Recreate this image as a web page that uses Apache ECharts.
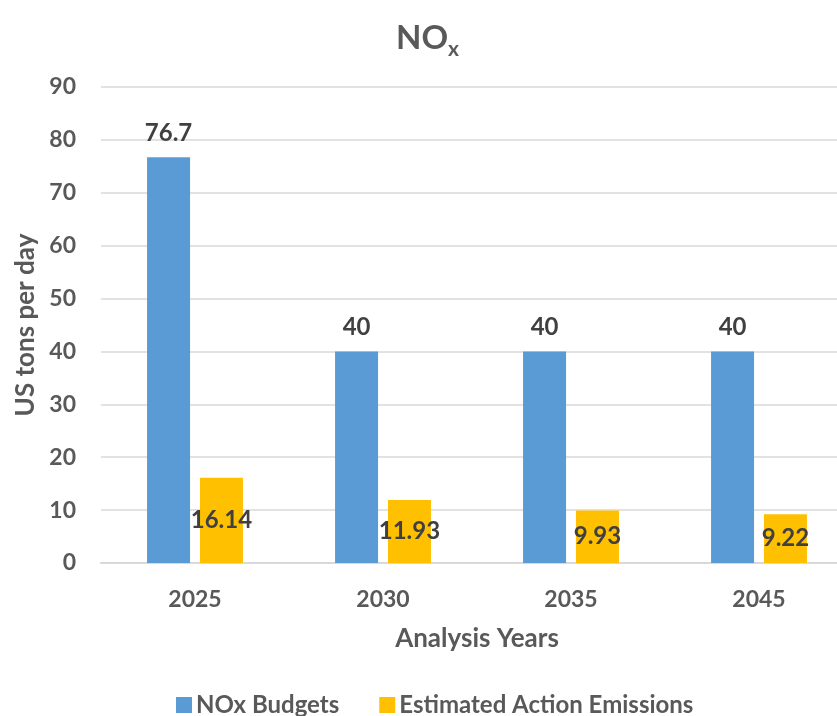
<!DOCTYPE html>
<html><head><meta charset="utf-8">
<script src="https://cdn.jsdelivr.net/npm/echarts@6/dist/echarts.min.js"></script>
<style>html,body{margin:0;padding:0;background:#fff;overflow:hidden}#c{width:853px;height:716px}</style>
</head><body><div id="c"></div>
<script>
const categories = ['2025', '2030', '2035', '2045'];
const budgets = [76.7, 40, 40, 40];
const emissions = [16.14, 11.93, 9.93, 9.22];
const seriesNames = ['NOx Budgets', 'Estimated Action Emissions'];
const yTicks = [0, 10, 20, 30, 40, 50, 60, 70, 80, 90];

const FONT = 'Lato';
const GREY = '#595959';
const chart = echarts.init(document.getElementById('c'));
chart.setOption({
  animation: false,
  textStyle: { fontFamily: FONT },
  title: {
    text: 'NO{sub|x}',
    left: 391, top: 11,
    textStyle: {
      fontFamily: FONT, fontSize: 33, fontWeight: 'bold', color: GREY,
      rich: { sub: { fontFamily: FONT, fontSize: 21, fontWeight: 'bold', color: GREY, padding: [23, 0, 0, 0] } }
    }
  },
  legend: {
    top: 688, left: 171, itemWidth: 16, itemHeight: 16, itemGap: 40,
    icon: 'rect',
    textStyle: { fontFamily: FONT, fontSize: 24, fontWeight: 'bold', color: GREY, padding: [0, 0, 0, -1] }
  },
  grid: { left: 101, top: 87, right: 0, height: 476 },
  xAxis: {
    type: 'category', data: categories,
    name: 'Analysis Years', nameLocation: 'middle', nameGap: 63,
    nameTextStyle: { fontFamily: FONT, fontSize: 26, fontWeight: 'bold', color: GREY },
    axisLine: { lineStyle: { color: '#d9d9d9', width: 2 } },
    axisTick: { show: false },
    axisLabel: { margin: 25, fontFamily: FONT, fontSize: 23, fontWeight: 'bold', color: GREY }
  },
  yAxis: {
    type: 'value', min: yTicks[0], max: yTicks[yTicks.length - 1], interval: 10,
    name: 'US tons per day', nameLocation: 'middle', nameGap: 59,
    nameTextStyle: { fontFamily: FONT, fontSize: 26, fontWeight: 'bold', color: GREY },
    axisLine: { show: false }, axisTick: { show: false },
    splitLine: { lineStyle: { color: '#d9d9d9', width: 1.5 } },
    axisLabel: { margin: 25, fontFamily: FONT, fontSize: 23, fontWeight: 'bold', color: GREY }
  },
  series: [
    {
      name: seriesNames[0], type: 'bar', data: budgets, barWidth: 43, barGap: '23%',
      itemStyle: { color: '#5b9bd5' },
      label: { show: true, position: 'top', distance: 12, fontFamily: FONT, fontSize: 24, fontWeight: 'bold', color: '#404040' }
    },
    {
      name: seriesNames[1], type: 'bar', data: emissions, barWidth: 43,
      itemStyle: { color: '#ffc000' },
      label: { show: true, position: 'inside', fontFamily: FONT, fontSize: 24, fontWeight: 'bold', color: '#404040' }
    }
  ]
});
</script></body></html>
